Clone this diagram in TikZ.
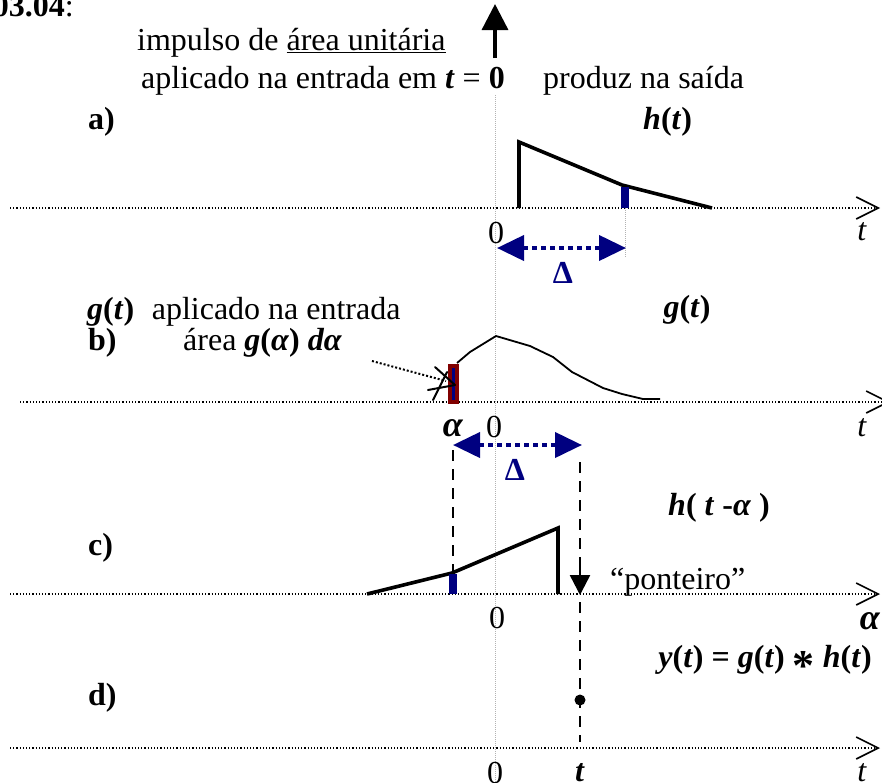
\documentclass[tikz,border=0pt]{standalone}
\usepackage{fontspec}
\setmainfont{Liberation Serif}
\usepackage{xcolor}
\usepackage{tikz}
\usetikzlibrary{arrows.meta, positioning, calc}

\definecolor{navyblue}{RGB}{0,0,128}
\definecolor{darkmaroon}{RGB}{128,0,0}
\newcommand{\bvar}[1]{\textbf{\textit{#1}}}

\begin{document}
\begin{tikzpicture}[
    x=1pt, y=-1pt,
    every node/.style={inner sep=0pt, font=\fontsize{32}{36}\selectfont},
    label bf/.style={font=\fontsize{32}{36}\selectfont\bfseries},
    axis line/.style={line width=1.2pt, dotted, -{Straight Barb[length=22pt, width=22pt, line width=1.6pt]}},
    zero line/.style={line width=1pt, gray!60, densely dotted},
    pulse/.style={line width=3.6pt, line join=miter},
    thin curve/.style={line width=1.8pt},
    delta arrow/.style={navyblue, line width=4pt, dash pattern=on 5pt off 4pt, {Triangle[length=27pt, width=25pt]}-{Triangle[length=27pt, width=25pt]}},
    guide/.style={line width=2.6pt, dash pattern=on 11pt off 8pt},
    sketch/.style={line width=2pt, line cap=round}
]
    \useasboundingbox (0,0) rectangle (882,782);
    \clip (0,0) rectangle (882,782);

    % Cabecalho
    \node[anchor=base east] (titulo) at (74,16) {\textbf{03.04}:};
    \node[anchor=base west] (impulso) at (137,50) {impulso de \underline{área unitária}};
    \node[anchor=base west] (aplicado) at (141,88) {aplicado na entrada em \bvar{t} = \textbf{0}};
    \node[anchor=base west] (produz) at (543,88) {produz na saída};

    % Impulso e eixo vertical
    \coordinate (imp0) at (495,58);
    \coordinate (imptop) at (495,4);
    \draw[line width=3.4pt, -{Triangle[length=26pt, width=26pt]}] (imp0) -- (imptop);
    \draw[zero line] (495,95) -- (495,782);

    % a) resposta ao impulso
    \node[anchor=base west, label bf] (la) at (88,129) {a)};
    \node[anchor=base west] (ht) at (643,129) {\textbf{\textit{h}(\textit{t})}};
    \draw[axis line] (10,208) -- (880,208);
    \draw[pulse] (519,208) -- (519,142) -- (622,185) -- (712,208);
    \fill[navyblue] (621,187) rectangle (629,208);
    \draw[zero line] (625,208) -- (625,258);
    \node (a0) at (496,233) {0};
    \node (at) at (862,232) {\textit{t}};
    \coordinate (da1) at (497,248);
    \coordinate (da2) at (626,248);
    \draw[delta arrow] (da1) -- (da2);
    \node[label bf, text=navyblue] (adelta) at (563,273) {Δ};

    % b) entrada g(t)
    \node[anchor=base west] (gin) at (87,319) {\textbf{\textit{g}(\textit{t})}\hspace{0.3em} aplicado na entrada};
    \node[anchor=base west, label bf] (lb) at (88,350) {b)};
    \node[anchor=base west] (area) at (183,350) {área \textbf{\textit{g}(\textit{α}) \textit{dα}}};
    \node (gt) at (687,310) {\textbf{\textit{g}(\textit{t})}};
    \draw[axis line] (20,402) -- (890,402);
    \fill[darkmaroon] (448,364) rectangle (459,404);
    \draw[navyblue, line width=3pt] (453.5,368) -- (453.5,400);
    \draw[thin curve] (457,363) -- (470,352) -- (496,336) -- (530,346) -- (553,357)
        -- (572,372) -- (603,388) -- (622,394) -- (643,399) -- (660,399);
    \coordinate (seta0) at (372,361);
    \coordinate (seta1) at (446,381);
    \draw[line width=2pt, dotted] (seta0) -- (seta1);
    \draw[sketch] (435,367) -- (455,385);
    \draw[sketch] (428,390) -- (455,385);
    \draw[sketch] (433,400) -- (447,372);
    \node (balpha) at (453,428) {\fontsize{36}{36}\selectfont\bvar{α}};
    \node (b0) at (494,427) {0};
    \node (bt) at (862,428) {\textit{t}};
    \coordinate (db1) at (453,445);
    \coordinate (db2) at (582,445);
    \draw[delta arrow] (db1) -- (db2);
    \node[label bf, text=navyblue] (bdelta) at (515,470) {Δ};

    % linhas guia
    \draw[guide] (453,450) -- (453,573);
    \draw[guide] (580,462) -- (580,566);
    \draw[guide] (580,602) -- (580,742);

    % c) h(t - alpha)
    \node (hta) at (719,508) {\textbf{\textit{h}( \textit{t} -\textit{α} )}};
    \node[anchor=west, label bf] (lc) at (88,548) {c)};
    \draw[axis line] (10,594) -- (880,594);
    \draw[pulse] (367,594) -- (452,573) -- (558,528) -- (558,594);
    \fill[navyblue] (449,574) rectangle (457,594);
    \coordinate (pont0) at (580,562);
    \coordinate (pont1) at (580,595);
    \draw[line width=2.5pt, -{Triangle[length=20pt, width=20pt]}] (pont0) -- (pont1);
    \node[anchor=west] (ponteiro) at (610,582) {“ponteiro”};
    \node (c0) at (497,618) {0};
    \node (calpha) at (870,621) {\fontsize{36}{36}\selectfont\bvar{α}};

    % d) saida y(t)
    \node (yt) at (765,663) {\textbf{\textit{y}(\textit{t}) = \textit{g}(\textit{t}) \raisebox{-0.42em}{\fontsize{44}{44}\selectfont*} \textit{h}(\textit{t})}};
    \node[anchor=west, label bf] (ld) at (88,698) {d)};
    \draw[axis line] (10,748) -- (880,748);
    \fill (580,700) circle (5.5pt);
    \node (d0) at (495,773) {0};
    \node (dtm) at (580,773) {\bvar{t}};
    \node (dt) at (862,773) {\textit{t}};
\end{tikzpicture}
\end{document}
